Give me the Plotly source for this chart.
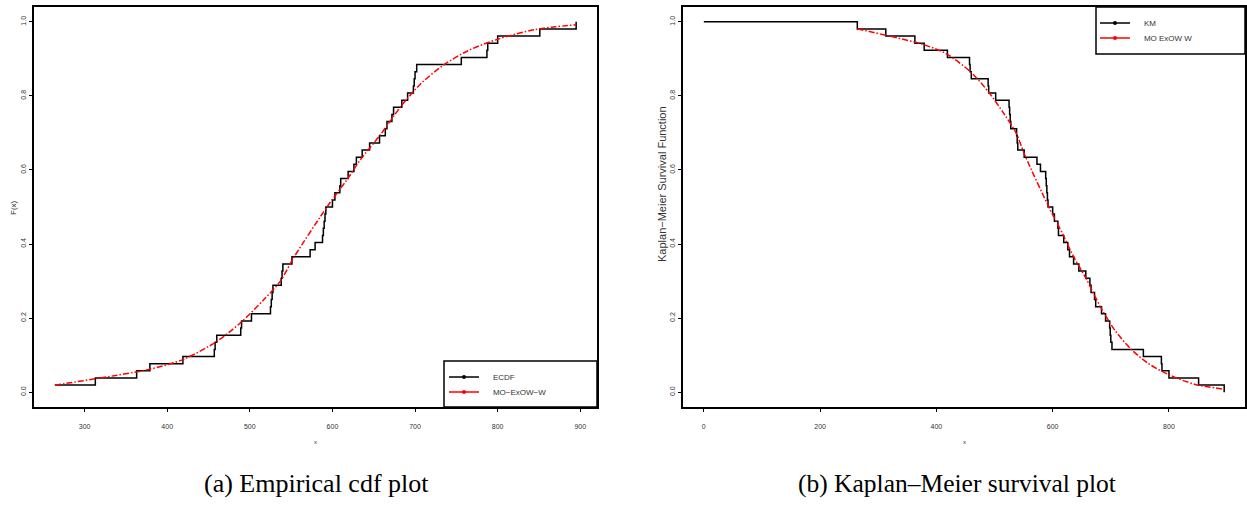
import plotly.graph_objects as go

W, H = 1247, 512

# ---- data ----
obs_x = [264, 313, 363, 379, 419, 457, 458, 460, 489, 490, 502, 525, 526, 527, 528,
         538, 539, 540, 551, 573, 579, 588, 589, 590, 591, 592, 600, 603, 609, 610,
         619, 626, 629, 636, 645, 657, 664, 666, 672, 674, 684, 691, 698, 699, 700,
         702, 756, 787, 788, 800, 851, 895]
n_obs = len(obs_x)
ecdf_y = [(i + 1) / n_obs for i in range(n_obs)]
km_x = [0] + obs_x
km_y = [1.0] + [1 - v for v in ecdf_y]

fit_x = [264, 318, 379, 419, 460, 490, 517, 537, 553, 594, 618, 634, 658, 683,
         707, 735, 764, 800, 845, 895]
fit_F = [0.019, 0.038, 0.062, 0.088, 0.137, 0.19, 0.25, 0.30, 0.363, 0.502, 0.575,
         0.628, 0.695, 0.772, 0.833, 0.884, 0.922, 0.953, 0.979, 0.992]
fit_S = [1 - v for v in fit_F]

left_xticks = [300, 400, 500, 600, 700, 800, 900]
right_xticks = [0, 200, 400, 600, 800]
yticks = [0.0, 0.2, 0.4, 0.6, 0.8, 1.0]
ytick_text = ["0.0", "0.2", "0.4", "0.6", "0.8", "1.0"]


def px(x):
    return x / W


def py(y):
    return 1 - y / H


SANS = "Liberation Sans Narrow, Liberation Sans, Arial"
SERIF = "Liberation Serif, Times New Roman, serif"
DASH = "6px,2px,1.5px,2px"
PAD = "\u00a0\u00a0\u00a0\u00a0"

fig = go.Figure()

# left panel
fig.add_trace(go.Scatter(x=obs_x, y=ecdf_y, mode="lines", line=dict(color="black", width=1.5, shape="hv"),
                         showlegend=False, xaxis="x", yaxis="y"))
fig.add_trace(go.Scatter(x=fit_x, y=fit_F, mode="lines",
                         line=dict(color="red", width=1.5, dash=DASH, shape="spline", smoothing=0.8),
                         showlegend=False, xaxis="x", yaxis="y"))
# right panel
fig.add_trace(go.Scatter(x=km_x, y=km_y, mode="lines", line=dict(color="black", width=1.5, shape="hv"),
                         showlegend=False, xaxis="x2", yaxis="y2"))
fig.add_trace(go.Scatter(x=fit_x, y=fit_S, mode="lines",
                         line=dict(color="red", width=1.5, dash=DASH, shape="spline", smoothing=0.8),
                         showlegend=False, xaxis="x2", yaxis="y2"))

# legend entries (one legend per entry for exact placement)
leg_items = [
    ("ECDF", "black", "legend", 444, 377),
    ("MO\u2212ExOW\u2212W", "red", "legend2", 444, 392),
    ("KM", "black", "legend3", 1095, 23),
    ("MO ExOW W", "red", "legend4", 1095, 38),
]
for name, col, lg, lx, ly in leg_items:
    fig.add_trace(go.Scatter(x=[None], y=[None], mode="lines+markers", name=PAD + name,
                             line=dict(color=col, width=1.5),
                             marker=dict(color=col, size=4, symbol="circle"),
                             legend=lg, xaxis="x", yaxis="y"))

axis_common = dict(showline=True, linecolor="black", linewidth=1.5, mirror=True,
                   ticks="outside", ticklen=3, tickwidth=1, tickcolor="black",
                   showgrid=False, zeroline=False,
                   tickfont=dict(family=SANS, size=7, color="#333"))

lx0, lx1 = 34, 597
rx0, rx1 = 683, 1245
ytop, ybot = 7, 407

layout = dict(
    width=W, height=H, margin=dict(l=0, r=0, t=0, b=0),
    paper_bgcolor="white", plot_bgcolor="white",
    xaxis=dict(domain=[px(lx0), px(lx1)], range=[238.76, 920.24], tickvals=left_xticks,
               anchor="y", ticklabelstandoff=9, **axis_common),
    yaxis=dict(domain=[py(ybot), py(ytop)], range=[-0.04, 1.04], tickvals=yticks, ticktext=ytick_text,
               tickangle=-90, anchor="x", **axis_common),
    xaxis2=dict(domain=[px(rx0), px(rx1)], range=[-35.8, 930.8], tickvals=right_xticks,
                anchor="y2", ticklabelstandoff=9, **axis_common),
    yaxis2=dict(domain=[py(ybot), py(ytop)], range=[-0.04, 1.04], tickvals=yticks, ticktext=ytick_text,
                tickangle=-90, anchor="x2", **axis_common),
)
for name, col, lg, lx, ly in leg_items:
    layout[lg] = dict(x=px(lx), y=py(ly), xanchor="left", yanchor="middle",
                      bgcolor="rgba(0,0,0,0)", borderwidth=0, itemwidth=30,
                      font=dict(family=SANS, size=8, color="#333"))
fig.update_layout(**layout)

# legend boxes
fig.add_shape(type="rect", xref="paper", yref="paper", x0=px(444), x1=px(lx1), y0=py(ybot), y1=py(361),
              line=dict(color="black", width=1.5))
fig.add_shape(type="rect", xref="paper", yref="paper", x0=px(1096), x1=px(rx1), y0=py(54), y1=py(ytop),
              line=dict(color="black", width=1.5))


def note(text, x, y, size, family=SANS, color="#333", angle=0):
    fig.add_annotation(text=text, x=px(x), y=py(y), xref="paper", yref="paper",
                       xanchor="center", yanchor="middle", textangle=angle, showarrow=False,
                       font=dict(family=family, size=size, color=color))


# axis titles
note("x", (lx0 + lx1) / 2, 442, 6)
note("x", (rx0 + rx1) / 2, 442, 6)
note("F(x)", 13, 208, 8, angle=-90)
note("Kaplan\u2212Meier Survival Function", 662, 184, 11, angle=-90)

# captions
note("(a) Empirical cdf plot", 316, 483, 26, family=SERIF, color="black")
note("(b) Kaplan\u2013Meier survival plot", 957, 483, 25.5, family=SERIF, color="black")

fig.write_html("out.html", config={"displayModeBar": False},
               post_script="document.body.style.margin='0';document.body.style.overflow='hidden';")
